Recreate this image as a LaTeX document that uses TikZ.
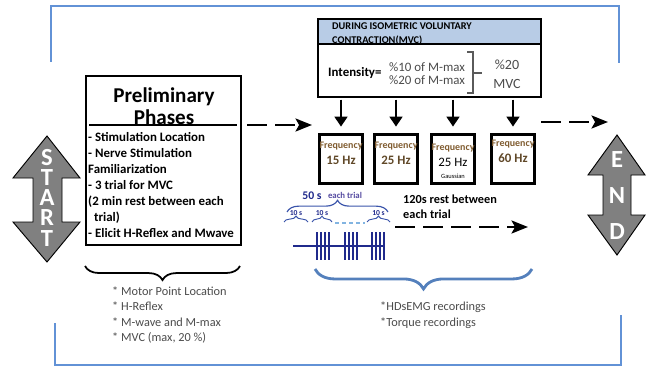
\documentclass[tikz,border=0pt]{standalone}
\usepackage{fontspec}
\setmainfont{Carlito}
\usetikzlibrary{positioning, fit, arrows.meta, decorations.pathreplacing}
\definecolor{frameblue}{RGB}{98,146,214}
\definecolor{headblue}{RGB}{184,204,230}
\definecolor{navy}{RGB}{32,42,140}
\definecolor{trialpurple}{RGB}{84,74,160}
\definecolor{brownlbl}{RGB}{128,92,48}
\definecolor{brownhz}{RGB}{96,72,40}
\definecolor{txtgray}{RGB}{75,75,75}
\definecolor{bracegray}{RGB}{90,90,90}
\definecolor{dotblue}{RGB}{130,180,225}
\definecolor{bracebl}{RGB}{84,128,188}
\definecolor{arrowgray}{RGB}{128,128,128}
\tikzset{
    frame/.style={draw=frameblue, line width=2.4pt},
    bigarrow/.style={draw=black, fill=arrowgray, line width=0.8pt},
    bigletter/.style={text=white, font=\fontsize{21}{21}\selectfont\bfseries, inner sep=0pt},
    prebox/.style={draw, line width=1.6pt, inner sep=0pt},
    pretitle/.style={font=\fontsize{18}{19}\selectfont\bfseries, align=center, inner sep=0pt},
    preitems/.style={font=\fontsize{11}{13.7}\selectfont\bfseries, align=left, anchor=west, inner sep=0pt},
    notes/.style={font=\fontsize{10.5}{13.2}\selectfont, text=txtgray, align=left, anchor=west, inner sep=0pt},
    blackbrace/.style={decorate, decoration={brace, amplitude=12pt}, line width=1.5pt},
    hdrbox/.style={draw, fill=headblue, line width=1.4pt, inner sep=0pt},
    intbox/.style={draw, line width=1.4pt, inner sep=0pt},
    hdrtext/.style={font=\fontsize{8.8}{12}\selectfont\bfseries, align=left, anchor=west, inner sep=0pt},
    inttext/.style={font=\fontsize{11}{13}\selectfont\bfseries, anchor=west, inner sep=0pt},
    intvals/.style={font=\fontsize{11}{11.2}\selectfont, text=txtgray, align=left, anchor=west, inner sep=0pt},
    mvctext/.style={font=\fontsize{12}{16}\selectfont, text=txtgray, align=center, inner sep=0pt},
    freqbox/.style={draw, line width=2.5pt, minimum width=1.29cm, minimum height=1.47cm, inner sep=0pt},
    freqlbl/.style={font=\fontsize{8.5}{9}\selectfont\bfseries, text=brownlbl, inner sep=0pt},
    freqhz/.style={font=\fontsize{11}{12}\selectfont\bfseries, text=brownhz, inner sep=0pt},
    freqplain/.style={font=\fontsize{11}{12}\selectfont, text=black, inner sep=0pt},
    gausstext/.style={font=\fontsize{5.5}{6}\selectfont, inner sep=0pt},
    downarrow/.style={-{Triangle[length=8.5pt,width=11pt]}, line width=1.7pt, shorten <=1.5pt, shorten >=5.5pt},
    dasharrow/.style={-{Stealth[length=14pt,width=11pt,inset=3pt]}, line width=2.5pt, dash pattern=on 17pt off 7pt, shorten <=4.5pt},
    fifty/.style={font=\fontsize{10}{11}\selectfont\bfseries, text=navy, inner sep=0pt},
    eachtrial/.style={font=\fontsize{7.5}{8}\selectfont\bfseries, text=trialpurple, inner sep=0pt},
    tens/.style={font=\fontsize{6.5}{7}\selectfont\bfseries, text=navy, inner sep=0pt},
    bigbrace/.style={decorate, decoration={brace, amplitude=10pt}, draw=navy!60!frameblue, line width=1pt},
    smallbrace/.style={decorate, decoration={brace, amplitude=5pt}, draw=navy!60!frameblue, line width=0.8pt},
    dotline/.style={draw=dotblue, dashed, line width=1pt},
    navyline/.style={draw=navy, line width=1.4pt},
    pulse/.style={draw=navy, line width=1.6pt},
    resttext/.style={font=\fontsize{10.5}{12.8}\selectfont\bfseries, align=left, anchor=west, inner sep=0pt},
    bluebrace/.style={decorate, decoration={brace, amplitude=17pt}, draw=bracebl, line width=2.4pt},
}

\begin{document}
\begin{tikzpicture}[x=0.03cm, y=-0.03cm]
\useasboundingbox (0,0) rectangle (652,367);
% frame
\draw[frame] (51,62) -- (51,6) -- (619,6) -- (619,63);
\draw[frame] (55,323) -- (55,365) -- (621,365) -- (621,315);

% start and end
\draw[bigarrow] (47,136) -- (80,178) -- (62,178) -- (62,222) -- (80,222) -- (47,262) -- (13,222) -- (33,222) -- (33,178) -- (13,178) -- cycle;
\foreach \l/\y [count=\i] in {S/158, T/178, A/198, R/218, T/239}
    \node[bigletter] (start\i) at (47,\y) {\l};
\draw[bigarrow] (617,135) -- (645,175) -- (631,175) -- (631,215) -- (645,215) -- (617,255) -- (588,215) -- (603,215) -- (603,175) -- (588,175) -- cycle;
\foreach \l/\y [count=\i] in {E/160, N/196, D/232}
    \node[bigletter] (end\i) at (617,\y) {\l};

% preliminary phases
\node[prebox, fit={(86,76) (241,245)}] (pre) {};
\node[pretitle] (pretit) at (164,106) {Preliminary\\Phases};
\draw[line width=1.2pt] (89,125) -- (237,125);
\node[preitems] (steps) at (88,185) {- Stimulation Location\\- Nerve Stimulation\\Familiarization\\- 3 trial for MVC\\(2 min rest between each\\\hspace*{5pt}trial)\\- Elicit H-Reflex and Mwave};
\draw[blackbrace] (240,266) -- (85,266);
\node[notes] (prelist) at (112,315) {* Motor Point Location\\* H-Reflex\\* M-wave and M-max\\* MVC (max, 20 \%)};

% intensity
\node[hdrbox, fit={(318,19) (541,44)}] (hdr) {};
\node[intbox, fit={(318,44) (541,97)}] (intbox) {};
\node[hdrtext] (hdrtxt) at (332,34) {DURING ISOMETRIC VOLUNTARY\\CONTRACTION(MVC)};
\node[inttext] (intlbl) at (328,73) {Intensity=};
\node[intvals] (vals) at (389,73.5) {\%10 of M-max\\\%20 of M-max};
\draw[bracegray, line width=0.9pt] (467,52) -- (473,52) -- (473,93) -- (467,93) (473,73) -- (482,73);
\node[mvctext] (mvc) at (507,74) {\%20\\MVC};

% frequencies
\foreach \n/\x/\hz/\s/\dy in {1/341/15 Hz/freqhz/0, 2/396/25 Hz/freqhz/0, 3/453/25 Hz/freqplain/2, 4/513/60 Hz/freqhz/-2}{
    \node[freqbox] (f\n) at (\x,159) {};
    \node[freqlbl] (fl\n) at (\x,146+\dy) {Frequency};
    \node[\s] (fh\n) at (\x,160+\dy) {\hz};
    \draw[downarrow] (intbox.south -| f\n) -- (f\n.north);
}
\node[gausstext] (gauss) at (453,176) {Gaussian};

\coordinate (d1e) at (312,125);
\draw[dasharrow] (pre.east |- d1e) -- (d1e);
\coordinate (d2e) at (608,122);
\draw[dasharrow] (f4.east |- d2e) -- (d2e);

% trials
\node[fifty] (fifty) at (312,196) {50 s};
\node[eachtrial] (each) at (345,195) {each trial};
\draw[bigbrace] (287,212) -- (388,212);
\foreach \a/\b in {284/308, 312/332, 367/390}{
    \draw[smallbrace] (\a,222) -- (\b,222);
    \node[tens] (ten\a) at ({(\a+\b)/2},213) {10 s};
}
\draw[dotline] (335,223) -- (365,223);
\draw[navyline] (293,246) -- (385,246);
\foreach \x in {317,321,325,329,345,349,353,357,372,376,380,384}
    \draw[pulse] (\x,232) -- (\x,260);

\node[resttext] (rest) at (403,206.5) {120s rest between\\each trial};
\coordinate (d3s) at (395,227);
\coordinate (d3e) at (528,227);
\draw[dasharrow, shorten <=0pt] (d3s) -- (d3e);

\draw[bluebrace] (532,269) -- (315,269);
\node[notes] (recs) at (380,315) {*HDsEMG recordings\\*Torque recordings};
\end{tikzpicture}
\end{document}
